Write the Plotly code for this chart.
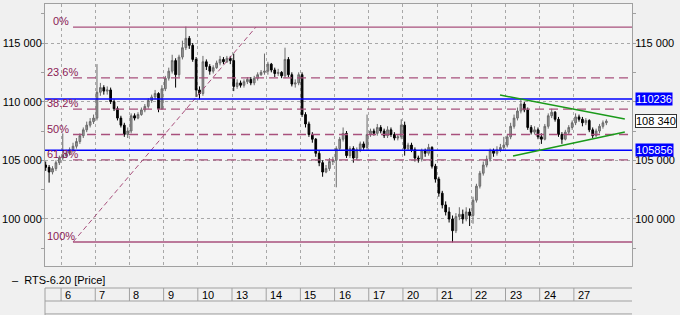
import plotly.graph_objects as go

# ---------------- data ----------------
day_labels = ["6", "7", "8", "9", "10", "13", "14", "15", "16", "17", "20", "21", "22", "23", "24", "27"]
bars_per_day = 10
pre_bars = 5  # bars of the previous (partial) day 5

# hourly-ish bars, in thousands of points; first row = tail of day 5
opens = [
    [104.6, 104.4, 104.0, 104.3, 104.8],
    [105.2, 105.4, 105.6, 105.9, 106.2, 106.6, 107.1, 107.6, 108.0, 108.3],
    [108.6, 110.8, 111.2, 110.9, 111.0, 110.0, 109.4, 108.6, 108.0, 107.2],
    [107.5, 108.8, 108.6, 108.9, 109.3, 109.6, 110.1, 110.4, 110.7, 109.4],
    [111.1, 112.0, 112.6, 113.5, 112.3, 113.8, 114.6, 115.4, 114.8, 113.6],
    [111.0, 110.7, 113.4, 113.0, 112.6, 112.9, 113.3, 113.6, 113.4, 113.7],
    [113.5, 111.3, 111.6, 111.4, 111.7, 111.9, 111.6, 112.0, 112.3, 112.5],
    [112.6, 113.2, 112.7, 112.4, 112.5, 112.2, 113.6, 112.3, 111.5, 111.6],
    [112.3, 108.9, 108.1, 107.2, 106.8, 105.6, 104.8, 104.0, 104.3, 104.9],
    [105.0, 106.0, 106.8, 107.3, 105.4, 106.0, 105.2, 105.9, 106.4, 106.1],
    [107.2, 107.5, 107.3, 107.8, 107.5, 107.1, 107.6, 107.2, 106.9, 107.0],
    [108.0, 106.0, 106.3, 105.9, 105.2, 105.1, 105.8, 105.6, 106.1, 104.5],
    [103.4, 102.2, 101.2, 100.6, 100.0, 99.0, 100.2, 100.4, 100.0, 100.6],
    [100.3, 101.6, 102.8, 103.9, 104.6, 105.1, 105.8, 105.6, 105.9, 106.1],
    [106.3, 107.0, 107.9, 108.6, 109.2, 109.8, 109.3, 107.8, 107.4, 107.6],
    [107.0, 106.8, 107.9, 108.8, 109.1, 108.5, 107.2, 106.8, 107.4, 107.8],
    [108.2, 108.7, 108.5, 108.2, 108.4, 107.6, 107.1, 107.5, 107.9, 108.2],
]
highs = [
    [104.9, 104.6, 104.5, 105.0, 105.4],
    [107.3, 105.9, 106.1, 106.5, 106.9, 107.3, 107.8, 108.3, 108.6, 108.9],
    [113.2, 111.6, 111.4, 111.3, 111.2, 110.2, 109.6, 108.8, 108.2, 107.8],
    [109.0, 109.0, 109.1, 109.5, 109.8, 110.3, 110.6, 111.0, 110.8, 111.4],
    [112.2, 112.9, 114.0, 113.7, 114.0, 115.2, 116.4, 115.6, 115.0, 113.8],
    [111.3, 113.9, 113.6, 113.2, 113.1, 113.5, 113.9, 113.8, 113.9, 113.9],
    [114.1, 111.9, 111.8, 111.9, 112.1, 112.1, 112.2, 112.5, 112.7, 114.1],
    [113.4, 113.3, 112.9, 112.8, 112.6, 114.6, 113.8, 112.5, 111.9, 112.5],
    [112.5, 109.1, 108.3, 107.4, 106.9, 105.8, 105.0, 104.6, 105.2, 105.3],
    [106.2, 107.0, 107.8, 107.5, 106.2, 106.2, 106.1, 106.6, 106.6, 108.9],
    [107.7, 107.7, 108.1, 108.0, 107.7, 107.9, 107.8, 107.4, 107.2, 108.5],
    [108.3, 106.5, 106.5, 106.1, 105.4, 106.0, 106.0, 106.4, 106.2, 104.7],
    [103.6, 102.4, 101.5, 101.0, 100.3, 100.5, 101.0, 100.8, 101.0, 100.9],
    [101.9, 103.0, 104.1, 104.9, 105.4, 106.0, 106.0, 106.2, 106.4, 107.0],
    [107.2, 108.2, 108.9, 109.5, 110.2, 110.0, 109.5, 108.0, 107.9, 107.8],
    [107.3, 108.1, 109.0, 109.4, 109.2, 108.7, 107.4, 107.6, 108.0, 108.4],
    [109.0, 108.9, 108.7, 108.6, 108.5, 107.8, 107.7, 108.1, 108.4, 108.5],
]
lows = [
    [104.1, 103.1, 103.8, 104.1, 104.6],
    [105.0, 105.2, 105.4, 105.7, 106.0, 106.4, 106.9, 107.4, 107.8, 108.1],
    [108.4, 110.5, 110.6, 110.6, 109.8, 109.2, 108.4, 107.8, 107.0, 106.9],
    [107.3, 108.4, 108.5, 108.8, 109.1, 109.4, 109.9, 110.2, 109.1, 109.3],
    [110.9, 111.8, 112.4, 111.2, 112.1, 113.6, 114.4, 114.5, 113.4, 110.4],
    [110.2, 110.5, 112.7, 112.3, 112.4, 112.8, 113.1, 113.2, 113.3, 113.2],
    [110.9, 111.1, 111.2, 111.2, 111.5, 111.4, 111.4, 111.8, 112.2, 112.3],
    [112.3, 112.5, 112.1, 112.2, 112.0, 112.0, 112.1, 111.3, 111.2, 111.4],
    [108.7, 107.8, 107.0, 106.5, 105.3, 104.5, 103.6, 103.9, 104.1, 104.6],
    [102.7, 105.8, 106.6, 105.2, 105.2, 104.8, 105.0, 105.7, 105.9, 105.9],
    [107.0, 107.1, 107.1, 107.3, 106.9, 106.9, 107.0, 106.7, 106.7, 106.8],
    [105.4, 105.8, 105.7, 104.9, 104.8, 104.9, 105.3, 105.4, 104.3, 103.1],
    [101.9, 100.9, 100.3, 99.7, 98.0, 98.8, 99.9, 99.6, 99.8, 99.4],
    [99.6, 101.4, 102.6, 103.7, 104.4, 104.9, 105.3, 105.4, 105.7, 105.9],
    [106.1, 106.8, 107.7, 108.4, 109.0, 109.1, 107.6, 107.2, 107.2, 106.8],
    [106.4, 106.7, 107.7, 108.6, 108.3, 107.0, 106.4, 106.7, 107.2, 107.6],
    [108.0, 108.3, 107.9, 108.0, 107.4, 106.9, 107.0, 107.3, 107.7, 108.0],
]
closes = [
    [104.4, 104.0, 104.3, 104.8, 105.2],
    [105.4, 105.6, 105.9, 106.2, 106.6, 107.1, 107.6, 108.0, 108.3, 108.6],
    [110.8, 111.2, 110.9, 111.0, 110.0, 109.4, 108.6, 108.0, 107.2, 107.5],
    [108.8, 108.6, 108.9, 109.3, 109.6, 110.1, 110.4, 110.7, 109.4, 111.1],
    [112.0, 112.6, 113.5, 112.3, 113.8, 114.6, 115.4, 114.8, 113.6, 111.0],
    [110.7, 113.4, 113.0, 112.6, 112.9, 113.3, 113.6, 113.4, 113.7, 113.5],
    [111.3, 111.6, 111.4, 111.7, 111.9, 111.6, 112.0, 112.3, 112.5, 112.6],
    [113.2, 112.7, 112.4, 112.5, 112.2, 113.6, 112.3, 111.5, 111.6, 112.3],
    [108.9, 108.1, 107.2, 106.8, 105.6, 104.8, 104.0, 104.3, 104.9, 105.0],
    [106.0, 106.8, 107.3, 105.4, 106.0, 105.2, 105.9, 106.4, 106.1, 107.2],
    [107.5, 107.3, 107.8, 107.5, 107.1, 107.6, 107.2, 106.9, 107.0, 108.0],
    [106.0, 106.3, 105.9, 105.2, 105.1, 105.8, 105.6, 106.1, 104.5, 103.4],
    [102.2, 101.2, 100.6, 100.0, 99.0, 100.2, 100.4, 100.0, 100.6, 100.3],
    [101.6, 102.8, 103.9, 104.6, 105.1, 105.8, 105.6, 105.9, 106.1, 106.3],
    [107.0, 107.9, 108.6, 109.2, 109.8, 109.3, 107.8, 107.4, 107.6, 107.0],
    [106.8, 107.9, 108.8, 109.1, 108.5, 107.2, 106.8, 107.4, 107.8, 108.2],
    [108.7, 108.5, 108.2, 108.4, 107.6, 107.1, 107.5, 107.9, 108.2, 108.34],
]

left_ticks = [100000, 105000, 110000, 115000]
right_ticks = [100000, 105000, 115000]

fib_high = 116360
fib_low = 98040
fib_x_start = 3.0      # bar index where the Fibonacci tool starts
fib_x_end = 56.5       # bar index of the tool's top anchor
fib_ratios = [0.0, 0.236, 0.382, 0.5, 0.618, 1.0]
fib_labels = ["0%", "23.6%", "38.2%", "50%", "61.8%", "100%"]

level_values = [110236, 105856]
level_texts = ["110236", "105856"]
last_price = 108340
last_price_text = "108 340"

trend_upper_x = [127.9, 164.4]
trend_upper_y = [110570, 108520]
trend_lower_x = [131.7, 164.4]
trend_lower_y = [105370, 107410]

series_name = "RTS-6.20 [Price]"

# ---------------- build ----------------
x_idx, o, h, l, c = [], [], [], [], []
for s, (oo, hh, ll, cc) in enumerate(zip(opens, highs, lows, closes)):
    for j in range(len(oo)):
        x_idx.append(j - pre_bars if s == 0 else (s - 1) * bars_per_day + j)
        o.append(oo[j] * 1000)
        h.append(hh[j] * 1000)
        l.append(ll[j] * 1000)
        c.append(cc[j] * 1000)

day_starts = [k * bars_per_day - 0.5 for k in range(len(day_labels))]
x_min, x_max = -5.2, 166.5
y_min, y_max = 95993, 118325

FONT = "Arial, Liberation Sans, sans-serif"
FS = 11
FIB_LINE = "#a8507c"
FIB_TEXT = "#8b1a55"
GRID = "#a8a8a8"

fig = go.Figure()
fig.add_trace(go.Candlestick(
    x=x_idx, open=o, high=h, low=l, close=c,
    increasing=dict(line=dict(color="#6a6a6a", width=1), fillcolor="#9c9c9c"),
    decreasing=dict(line=dict(color="#000000", width=1), fillcolor="#000000"),
    whiskerwidth=0, hoverinfo="skip", showlegend=False,
))
fig.add_trace(go.Scatter(x=[x_idx[-1]], y=[c[-1]], yaxis="y2", mode="none",
                         hoverinfo="skip", showlegend=False))

shapes = []
annotations = []

fib_levels = [fib_high - r * (fib_high - fib_low) for r in fib_ratios]
for r, lvl, lab in zip(fib_ratios, fib_levels, fib_labels):
    solid = r in (0.0, 1.0)
    shapes.append(dict(type="line", xref="x", yref="y", x0=fib_x_start, x1=x_max,
                       y0=lvl, y1=lvl, layer="above",
                       line=dict(color=FIB_LINE, width=1.3,
                                 dash="solid" if solid else "9px,5px")))
    annotations.append(dict(xref="paper", yref="y", x=0, y=lvl, xanchor="left",
                            yanchor="middle", xshift=7 if lab == "0%" else 1, yshift=6,
                            text=lab, showarrow=False, borderpad=0,
                            font=dict(family=FONT, size=FS, color=FIB_TEXT)))
# diagonal trend line of the Fibonacci tool
shapes.append(dict(type="line", xref="x", yref="y", x0=fib_x_start, y0=fib_low,
                   x1=fib_x_end, y1=fib_high, layer="above",
                   line=dict(color=FIB_LINE, width=1, dash="5px,3px")))

# horizontal blue levels
for v, t in zip(level_values, level_texts):
    shapes.append(dict(type="line", xref="paper", yref="y", x0=0, x1=1, y0=v, y1=v,
                       layer="above", line=dict(color="#0000ff", width=1.5)))
    annotations.append(dict(xref="paper", yref="y", x=1, y=v, xanchor="left",
                            yanchor="middle", xshift=3, text=t, showarrow=False,
                            bgcolor="#0000ff", borderpad=0,
                            font=dict(family=FONT, size=FS, color="#ffffff")))
annotations.append(dict(xref="paper", yref="y", x=1, y=last_price, xanchor="left",
                        yanchor="middle", xshift=3, text=last_price_text, showarrow=False,
                        bgcolor="#ffffff", bordercolor="#333333", borderwidth=1, borderpad=0,
                        font=dict(family=FONT, size=FS, color="#000000")))

# green triangle lines
for xs, ys in ((trend_upper_x, trend_upper_y), (trend_lower_x, trend_lower_y)):
    shapes.append(dict(type="line", xref="x", yref="y", x0=xs[0], y0=ys[0],
                       x1=xs[1], y1=ys[1], layer="above",
                       line=dict(color="#1a9a1a", width=1.5)))

# bottom date table
row_top, row_mid, row_bot = -0.084, -0.1336, -0.183
for yy in (row_top, row_mid, row_bot):
    shapes.append(dict(type="line", xref="paper", yref="paper", x0=0, x1=1, y0=yy, y1=yy,
                       line=dict(color="#a0a0a0", width=1)))
shapes.append(dict(type="line", xref="paper", yref="paper", x0=0, x1=0, y0=row_top, y1=-0.2,
                   line=dict(color="#a0a0a0", width=1)))
for ds, lab in zip(day_starts, day_labels):
    shapes.append(dict(type="line", xref="x", yref="paper", x0=ds, x1=ds, y0=row_top, y1=row_mid,
                       line=dict(color="#a0a0a0", width=1)))
    annotations.append(dict(xref="x", yref="paper", x=ds, y=(row_top + row_mid) / 2,
                            xanchor="left", yanchor="middle", xshift=2, text=lab,
                            showarrow=False, font=dict(family=FONT, size=FS, color="#000000")))

# legend line
annotations.append(dict(xref="paper", yref="paper", x=-0.0596, y=-0.0534, xanchor="left",
                        yanchor="middle", text="\u2013  " + series_name, showarrow=False,
                        font=dict(family=FONT, size=FS, color="#000000")))

tick_fmt = lambda vals: [f"{v:,}".replace(",", " ") for v in vals]

fig.update_layout(
    width=680, height=315,
    margin=dict(l=45, r=48, t=4, b=49),
    paper_bgcolor="#f0f0f0", plot_bgcolor="#f4f4f4",
    font=dict(family=FONT, size=FS, color="#000000"),
    showlegend=False,
    shapes=shapes, annotations=annotations,
    xaxis=dict(range=[x_min, x_max], tickvals=day_starts, showticklabels=False,
               ticks="", showgrid=True, gridcolor=GRID, griddash="dot", gridwidth=1,
               zeroline=False, showline=True, linecolor="#a0a0a0", mirror=True,
               rangeslider=dict(visible=False), fixedrange=True, automargin=False),
    yaxis=dict(range=[y_min, y_max], tickvals=left_ticks, ticktext=tick_fmt(left_ticks),
               ticks="",
               minor=dict(dtick=2500, ticks="outside", ticklen=3, tickcolor="#a0a0a0", showgrid=False),
               showgrid=True, gridcolor=GRID, griddash="dot", zeroline=False,
               showline=True, linecolor="#a0a0a0", mirror=True, automargin=False,
               tickfont=dict(family=FONT, size=FS), fixedrange=True),
    yaxis2=dict(range=[y_min, y_max], overlaying="y", side="right", tickvals=right_ticks,
                ticktext=tick_fmt(right_ticks), ticks="",
                minor=dict(dtick=2500, ticks="outside", ticklen=3, tickcolor="#a0a0a0"),
                showgrid=False, zeroline=False, showline=True, linecolor="#a0a0a0",
                automargin=False,
                tickfont=dict(family=FONT, size=FS), fixedrange=True),
)

fig.write_html("out.html")
